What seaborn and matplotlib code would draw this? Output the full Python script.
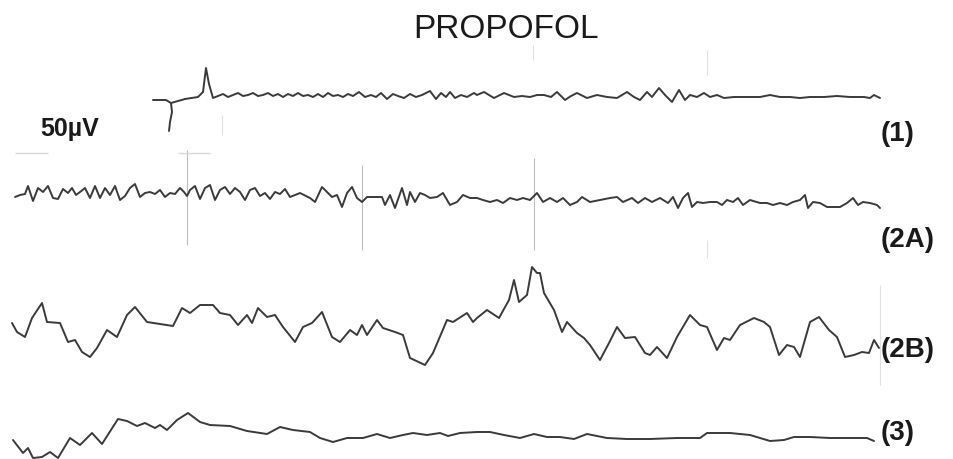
import pandas as pd
import seaborn as sns
from matplotlib import pyplot as plt

# traces (x, y in picture units, y grows downward)
t1_tail_x = [153, 166, 171, 172, 170, 169]
t1_tail_y = [100, 100, 103, 112, 122, 131]
t1_x = [171, 185, 198, 203, 206, 209, 213, 218, 223, 228, 233, 238, 243, 248, 253, 258,
        263, 268, 273, 278, 283, 288, 293, 298, 303, 308, 313, 318, 323, 328, 333, 338,
        343, 348, 353, 359, 365, 371, 376, 381, 387, 393, 398, 404, 410, 416, 422, 430,
        436, 441, 446, 450, 455, 461, 467, 474, 477, 484, 494, 504, 514, 522, 530, 537,
        544, 551, 557, 565, 571, 577, 587, 597, 607, 617, 627, 634, 640, 647, 652, 659,
        665, 672, 679, 685, 690, 697, 704, 710, 717, 724, 734, 747, 760, 770, 780, 790,
        800, 810, 824, 837, 850, 864, 870, 874, 880]
t1_y = [103, 99, 97, 92, 68, 84, 98, 96, 94, 97, 95, 93, 96, 95, 93, 96,
        95, 93, 96, 94, 97, 94, 96, 93, 96, 95, 97, 94, 97, 93, 96, 95,
        97, 94, 96, 92, 97, 95, 97, 93, 99, 94, 96, 98, 94, 97, 95, 91,
        99, 93, 97, 92, 98, 95, 97, 93, 95, 92, 98, 93, 97, 96, 97, 95,
        95, 97, 92, 100, 96, 93, 98, 95, 97, 98, 92, 97, 100, 92, 97, 88,
        95, 102, 90, 100, 95, 97, 93, 97, 95, 98, 97, 97, 97, 95, 97, 97,
        98, 97, 97, 96, 97, 97, 98, 95, 98]

t2a_x = [15, 20, 25, 28, 33, 38, 43, 48, 53, 58, 63, 68, 72, 76, 80, 85, 90, 95, 100,
         105, 110, 115, 120, 125, 130, 135, 140, 145, 150, 155, 160, 165, 170, 175, 180,
         184, 187, 190, 195, 200, 205, 210, 215, 220, 225, 230, 235, 240, 245, 250, 255,
         260, 265, 270, 275, 280, 285, 290, 300, 310, 315, 322, 327, 332, 337, 342, 347,
         352, 357, 362, 367, 372, 382, 385, 390, 395, 402, 407, 410, 415, 420, 425, 430,
         437, 443, 450, 457, 463, 470, 477, 483, 490, 497, 503, 510, 517, 523, 530, 537,
         543, 550, 557, 563, 570, 577, 582, 590, 600, 610, 617, 623, 632, 638, 645, 652,
         660, 668, 673, 678, 683, 688, 692, 697, 703, 710, 717, 722, 727, 733, 738, 743,
         750, 760, 767, 773, 780, 787, 793, 800, 805, 808, 813, 820, 827, 833, 840, 847,
         853, 858, 863, 870, 877, 880]
t2a_y = [197, 195, 194, 186, 201, 188, 192, 186, 198, 199, 189, 193, 188, 195, 192, 188,
         198, 186, 198, 188, 195, 186, 200, 196, 188, 184, 197, 193, 192, 194, 190, 197,
         193, 194, 188, 192, 196, 190, 186, 199, 188, 185, 200, 190, 187, 194, 188, 192,
         200, 190, 188, 196, 193, 199, 192, 194, 189, 197, 193, 198, 202, 187, 192, 197,
         195, 207, 193, 187, 198, 202, 197, 197, 197, 205, 195, 208, 188, 205, 192, 202,
         193, 195, 198, 197, 193, 205, 202, 195, 198, 198, 200, 202, 200, 203, 198, 200,
         198, 200, 193, 202, 198, 202, 198, 205, 202, 197, 202, 200, 198, 197, 202, 198,
         203, 198, 202, 198, 203, 197, 208, 198, 193, 207, 202, 203, 202, 202, 205, 200,
         202, 198, 205, 200, 203, 203, 205, 203, 205, 202, 200, 195, 208, 202, 203, 207,
         207, 207, 203, 198, 205, 202, 203, 205, 208]

t2b_x = [12, 17, 25, 32, 42, 47, 60, 68, 75, 82, 90, 97, 107, 117, 127, 135, 147, 160,
         173, 182, 190, 200, 213, 220, 230, 238, 247, 252, 258, 267, 275, 283, 295, 303,
         312, 322, 332, 340, 350, 357, 362, 367, 377, 383, 395, 403, 410, 425, 433, 447,
         453, 467, 473, 477, 487, 499, 509, 514, 519, 527, 532, 537, 540, 544, 554, 562,
         567, 577, 584, 590, 600, 609, 617, 625, 635, 645, 650, 657, 667, 677, 690, 700,
         707, 717, 724, 730, 740, 754, 764, 770, 779, 787, 794, 800, 810, 819, 829, 837,
         845, 854, 862, 869, 874, 879]
t2b_y = [323, 332, 337, 318, 303, 322, 323, 342, 340, 352, 357, 348, 330, 337, 315, 307,
         322, 324, 326, 308, 313, 305, 305, 313, 315, 325, 315, 323, 308, 317, 315, 327,
         342, 327, 323, 312, 337, 342, 330, 335, 325, 335, 320, 328, 332, 335, 358, 365,
         353, 320, 322, 313, 322, 318, 310, 318, 300, 280, 302, 295, 267, 273, 273, 293,
         310, 332, 322, 333, 338, 345, 360, 343, 327, 338, 337, 353, 355, 347, 358, 337,
         315, 325, 327, 350, 338, 340, 325, 318, 322, 327, 355, 345, 347, 357, 322, 317,
         330, 337, 357, 355, 352, 353, 340, 348]

t3_x = [13, 23, 28, 33, 42, 50, 58, 70, 80, 92, 102, 118, 127, 137, 145, 155, 160, 167,
        177, 188, 200, 210, 230, 247, 267, 280, 293, 310, 320, 333, 347, 363, 377, 390,
        403, 413, 427, 440, 448, 460, 477, 490, 504, 520, 534, 547, 560, 574, 587, 607,
        627, 650, 677, 700, 707, 730, 750, 760, 770, 784, 794, 810, 830, 850, 867, 874]
t3_y = [440, 453, 448, 458, 457, 452, 458, 438, 445, 433, 444, 419, 421, 426, 423, 428,
        425, 430, 420, 413, 422, 425, 426, 431, 434, 427, 430, 432, 438, 442, 438, 438,
        434, 438, 435, 433, 435, 433, 436, 433, 432, 432, 435, 438, 434, 437, 437, 439,
        434, 438, 439, 439, 438, 438, 433, 433, 435, 438, 441, 440, 437, 437, 438, 438,
        438, 441]

trace_labels = ["(1)", "(2A)", "(2B)", "(3)"]
label_y = [134, 240, 350, 433]

traces = [(t1_tail_x, t1_tail_y), (t1_x, t1_y), (t2a_x, t2a_y),
          (t2b_x, t2b_y), (t3_x, t3_y)]

sns.set_style("white")
fig = plt.figure(figsize=(9.54, 4.59), dpi=100)
ax = fig.add_axes([0, 0, 1, 1])

# faint paper grid marks
ax.vlines([187, 362, 534], [150, 165, 158], [245, 250, 250], colors="#bdbdbd", lw=0.8)
ax.vlines([707, 707, 880, 222, 533], [240, 50, 285, 115, 45], [258, 75, 385, 135, 60],
          colors="#e0e0e0", lw=0.8)
ax.hlines([153, 153], [15, 178], [48, 210], colors="#d8d8d8", lw=1.0)

for xs, ys in traces:
    df = pd.DataFrame({"x": xs, "y": ys})
    sns.lineplot(data=df, x="x", y="y", sort=False, estimator=None,
                 color="#3a3a3a", lw=1.4, solid_joinstyle="round",
                 solid_capstyle="round", ax=ax)

ax.text(506, 30, "PROPOFOL", ha="center", va="center", fontsize=24,
        family="Liberation Sans", color="#1a1a1a")
ax.text(40, 129, "50µV", ha="left", va="center", fontsize=18, fontweight="bold",
        family="Liberation Sans", color="#1a1a1a")
for lab, yy in zip(trace_labels, label_y):
    ax.text(881, yy, lab, ha="left", va="center", fontsize=20, fontweight="bold",
            family="Liberation Sans", color="#1a1a1a")

ax.set_xlim(0, 954)
ax.set_ylim(459, 0)
ax.set_axis_off()
plt.savefig("out.png", dpi=100)
